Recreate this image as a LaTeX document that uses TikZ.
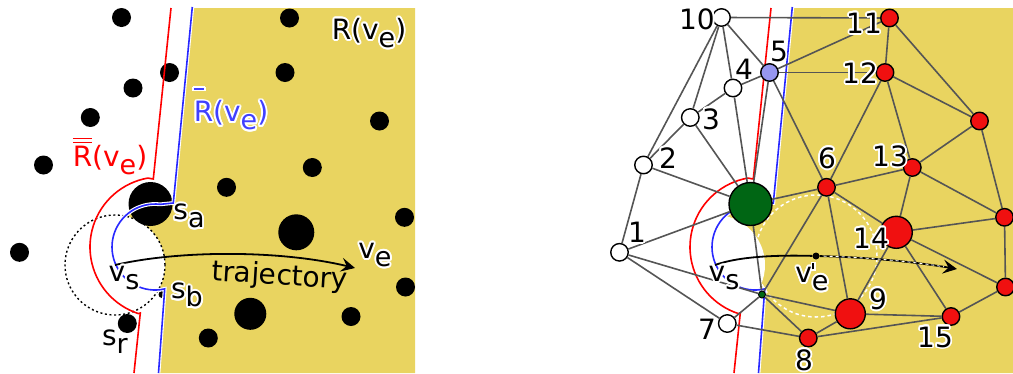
\documentclass[tikz,border=0pt]{standalone}
\usepackage{fontspec}
\setmainfont{DejaVu Sans}
\usepackage[copies]{contour}
\contourlength{1.8pt}
\usetikzlibrary{arrows.meta}
\definecolor{ylw}{RGB}{233,212,96}
\definecolor{edgegray}{RGB}{85,85,85}
\definecolor{nred}{RGB}{240,16,16}
\definecolor{ngreen}{RGB}{0,102,20}
\definecolor{nblue}{RGB}{150,150,240}
\definecolor{lblue}{RGB}{64,64,255}
\definecolor{bline}{RGB}{40,40,255}
\newcommand\sbs[1]{\raisebox{-8pt}{\fontsize{27}{27}\selectfont #1}}
\newcommand\ovl[1]{\vbox{\hbox{\rule{10.5pt}{1.6pt}}\kern2.4pt\hbox{#1}}}
\newcommand\ovll[1]{\vbox{\hrule height1.5pt\kern2.3pt\hrule height1.5pt\kern2.6pt\hbox{#1}}}
\newcommand\redpath{(171,8) -- (153.3,179) -- plot[domain=100:252,samples=40] ({160+70*cos(\x)},{247-70*sin(\x)}) -- (140.3,313) -- (134,373)}
\newcommand\bluepath{(192.3,7) -- (173.3,203) -- plot[domain=83:283,samples=40] ({155+43*cos(\x)},{247-43*sin(\x)}) -- (164.5,292) -- (158.5,373)}
\begin{document}
\begin{tikzpicture}[x=1pt,y=-1pt,
  lab/.style={font=\fontsize{28}{30}\selectfont, inner sep=0pt},
  bdot/.style={circle, fill=black, inner sep=0pt, minimum size=#1},
  gnode/.style={circle, draw=black, line width=1.4pt, inner sep=0pt, minimum size=17.5pt},
  wn/.style={gnode, fill=white},
  rn/.style={gnode, fill=nred},
  lnk/.style={draw=edgegray, line width=1.6pt},
  redline/.style={draw=red, line width=1.6pt},
  blueline/.style={draw=bline, line width=1.6pt},
  traj/.style={line width=1.8pt},
  arrtip/.style={-{Stealth[length=14pt,width=14pt,inset=5.5pt]}}
]
\useasboundingbox (0,0) rectangle (1013,373);
% ---------- yellow regions ----------
\fill[ylw] (191.4,8) -- (173.3,203) -- plot[domain=83:283,samples=40] ({155+43*cos(\x)},{247-43*sin(\x)}) -- (164.5,292) -- (158.5,373) -- (415,373) -- (415,8) -- cycle;
\begin{scope}[xshift=600pt]
\fill[ylw] (191.4,8) -- (173.3,203) -- plot[domain=83:283,samples=40] ({155+43*cos(\x)},{247-43*sin(\x)}) -- (164.5,292) -- (158.5,373) -- (413,373) -- (413,8) -- cycle;
\end{scope}
\fill[white] (115,265) circle[radius=50pt];
\fill[white] (715,265) circle[radius=50pt];
\draw[white, line width=1.5pt, dash pattern=on 3.5pt off 3pt] (816,256) circle[radius=61pt];

% ---------- left panel ----------
\draw[line width=1.4pt, dash pattern=on 2pt off 2.6pt] (115,265) circle[radius=50pt];
\node[bdot=19pt] (La) at (121.5,17.5) {};
\node[bdot=19pt] (Lb) at (289.5,18) {};
\node[bdot=19pt] (Lc) at (169.5,72.5) {};
\node[bdot=19pt] (Ld) at (285,72.5) {};
\node[bdot=19pt] (Le) at (133,88) {};
\node[bdot=19pt] (Lf) at (90.3,117.5) {};
\node[bdot=19pt] (Lg) at (379.5,121) {};
\node[bdot=19pt] (Lh) at (43.5,165) {};
\node[bdot=19pt] (Li) at (312.3,167.5) {};
\node[bdot=19pt] (Lj) at (226.5,187.3) {};
\node[bdot=44pt] (Lsa) at (150.5,204) {};
\node[bdot=19pt] (Lk) at (404.5,217.3) {};
\node[bdot=36pt] (Ll) at (296.3,232.3) {};
\node[bdot=19pt] (Lm) at (19.5,252.3) {};
\node[bdot=19pt] (Ln) at (405.5,287) {};
\node[bdot=32pt] (Lo) at (250.3,313.8) {};
\node[bdot=19pt] (Lp) at (351,316.5) {};
\node[bdot=19pt] (Lsr) at (127.3,323.5) {};
\node[bdot=19pt] (Lq) at (208.3,338) {};
\node[bdot=7pt] (Lsb) at (162,294.5) {};
\draw[white, line width=3.8pt] \bluepath;
\draw[blueline] \bluepath;
\draw[redline] \redpath;

% ---------- right panel boundaries ----------
\begin{scope}[xshift=600pt]
\draw[white, line width=3.8pt] \bluepath;
\draw[blueline] \bluepath;
\draw[redline] \redpath;
\end{scope}

% ---------- right panel nodes ----------
\node[wn] (n10) at (721.5,17.5) {};
\node[rn] (n11) at (889.5,18) {};
\node[gnode, fill=nblue] (n5) at (769.5,72.5) {};
\node[rn] (n12) at (885,72.5) {};
\node[wn] (n4) at (733,88) {};
\node[wn] (n3) at (690.3,117.5) {};
\node[rn] (nA) at (979.5,121) {};
\node[wn] (n2) at (643.5,165) {};
\node[rn] (n13) at (912.3,167.5) {};
\node[rn] (n6) at (826.5,187.3) {};
\node[gnode, fill=ngreen, minimum size=43pt] (ng) at (750.5,204) {};
\node[rn] (nB) at (1004.5,217.3) {};
\node[rn, minimum size=32pt] (n14) at (896.3,232.3) {};
\node[wn] (n1) at (619.5,252.3) {};
\node[rn] (nC) at (1005.5,287) {};
\node[rn, minimum size=30pt] (n9) at (850.3,313.8) {};
\node[rn] (n15) at (951,316.5) {};
\node[wn] (n7) at (727.3,323.5) {};
\node[rn] (n8) at (808.3,338) {};
\node[gnode, fill=ngreen, minimum size=7pt, line width=1pt] (nsb) at (762,294.5) {};

\foreach \a/\b in {n10/n11,n10/n5,n10/n4,n10/n3,n10/n2,
  n5/n11,n5/n12,n5/n4,n5/n6,n5/ng,
  n4/n3,n4/ng,n3/ng,n3/n2,n2/ng,n2/n1,
  n11/n12,n11/nA,n12/nA,n12/n6,n12/n13,nA/n13,nA/nB,
  n13/n6,n13/n14,n13/nB,
  n6/ng,n6/n14,n6/nsb,n6/n9,
  ng/n1,ng/nsb,
  n14/nB,n14/nC,n14/n9,n14/n15,
  nB/nC,nC/n15,
  n1/nsb,n1/n7,n7/nsb,n7/n8,
  nsb/n9,nsb/n8,n8/n9,n8/n15,n9/n15}
  \draw[lnk] (\a) -- (\b);

% ---------- trajectories ----------
\coordinate (vsL) at (115,265);
\coordinate (veL) at (355,268);
\draw[traj, arrtip] (vsL) .. controls (180,250) and (280,250) .. (veL);
\coordinate (vsR) at (715,265);
\coordinate (arrR) at (957,269);
\node[bdot=7pt] (veR) at (816,256) {};
\draw[traj] (vsR) .. controls (740,256) and (780,255) .. (veR);
\draw[traj, arrtip] (veR) .. controls (860,257) and (910,261) .. (arrR);
\draw[white, line width=0.9pt, dash pattern=on 3pt off 3pt, shorten >=13pt, shorten <=4pt] (veR) .. controls (860,257) and (910,261) .. (arrR);

% ---------- labels left ----------
\node[lab] (tR) at (369,34) {\contour{white}{R(v\sbs{e})}};
\node[lab, text=lblue] (tRb) at (231,110) {\contour{white}{\ovl{R}(v\sbs{e})}};
\node[lab, text=red] (tRr) at (110,157) {\contour{white}{\ovll{R}(v\sbs{e})}};
\node[lab] (tsa) at (189,217) {\contour{white}{s\sbs{a}}};
\node[lab] (tvsL) at (124,279) {\contour{white}{v\sbs{s}}};
\node[lab] (tsb) at (187,296) {\contour{white}{s\sbs{b}}};
\node[lab] (tsr) at (115,343) {\contour{white}{s\sbs{r}}};
\node[lab] (tve) at (375,256) {\contour{white}{v\sbs{e}}};
\node[lab, rotate=-3.5] (ttraj) at (280,277) {trajectory};

% ---------- labels right ----------
\node[lab] (l10) at (697,20) {\contour{white}{10}};
\node[lab] (l11) at (864,24) {\contour{white}{11}};
\node[lab] (l5) at (779,52) {\contour{white}{5}};
\node[lab] (l12) at (860,74) {\contour{white}{12}};
\node[lab] (l4) at (744,70) {\contour{white}{4}};
\node[lab] (l3) at (711,120) {\contour{white}{3}};
\node[lab] (l2) at (668,159) {\contour{white}{2}};
\node[lab] (l13) at (890,157) {\contour{white}{13}};
\node[lab] (l6) at (827,159) {\contour{white}{6}};
\node[lab] (l14) at (871,239) {\contour{white}{14}};
\node[lab] (l1) at (637,233) {\contour{white}{1}};
\node[lab] (tvsR) at (724,279) {\contour{white}{v\sbs{s}}};
\node[lab] (tveR) at (812,278) {\contour{white}{v\rlap{\kern0.5pt\rule[13pt]{1.8pt}{6pt}}\sbs{e}}};
\node[lab] (l9) at (878,300) {\contour{white}{9}};
\node[lab] (l15) at (935,338) {\contour{white}{15}};
\node[lab] (l7) at (707,330) {\contour{white}{7}};
\node[lab] (l8) at (804,361) {\contour{white}{8}};
\end{tikzpicture}
\end{document}
